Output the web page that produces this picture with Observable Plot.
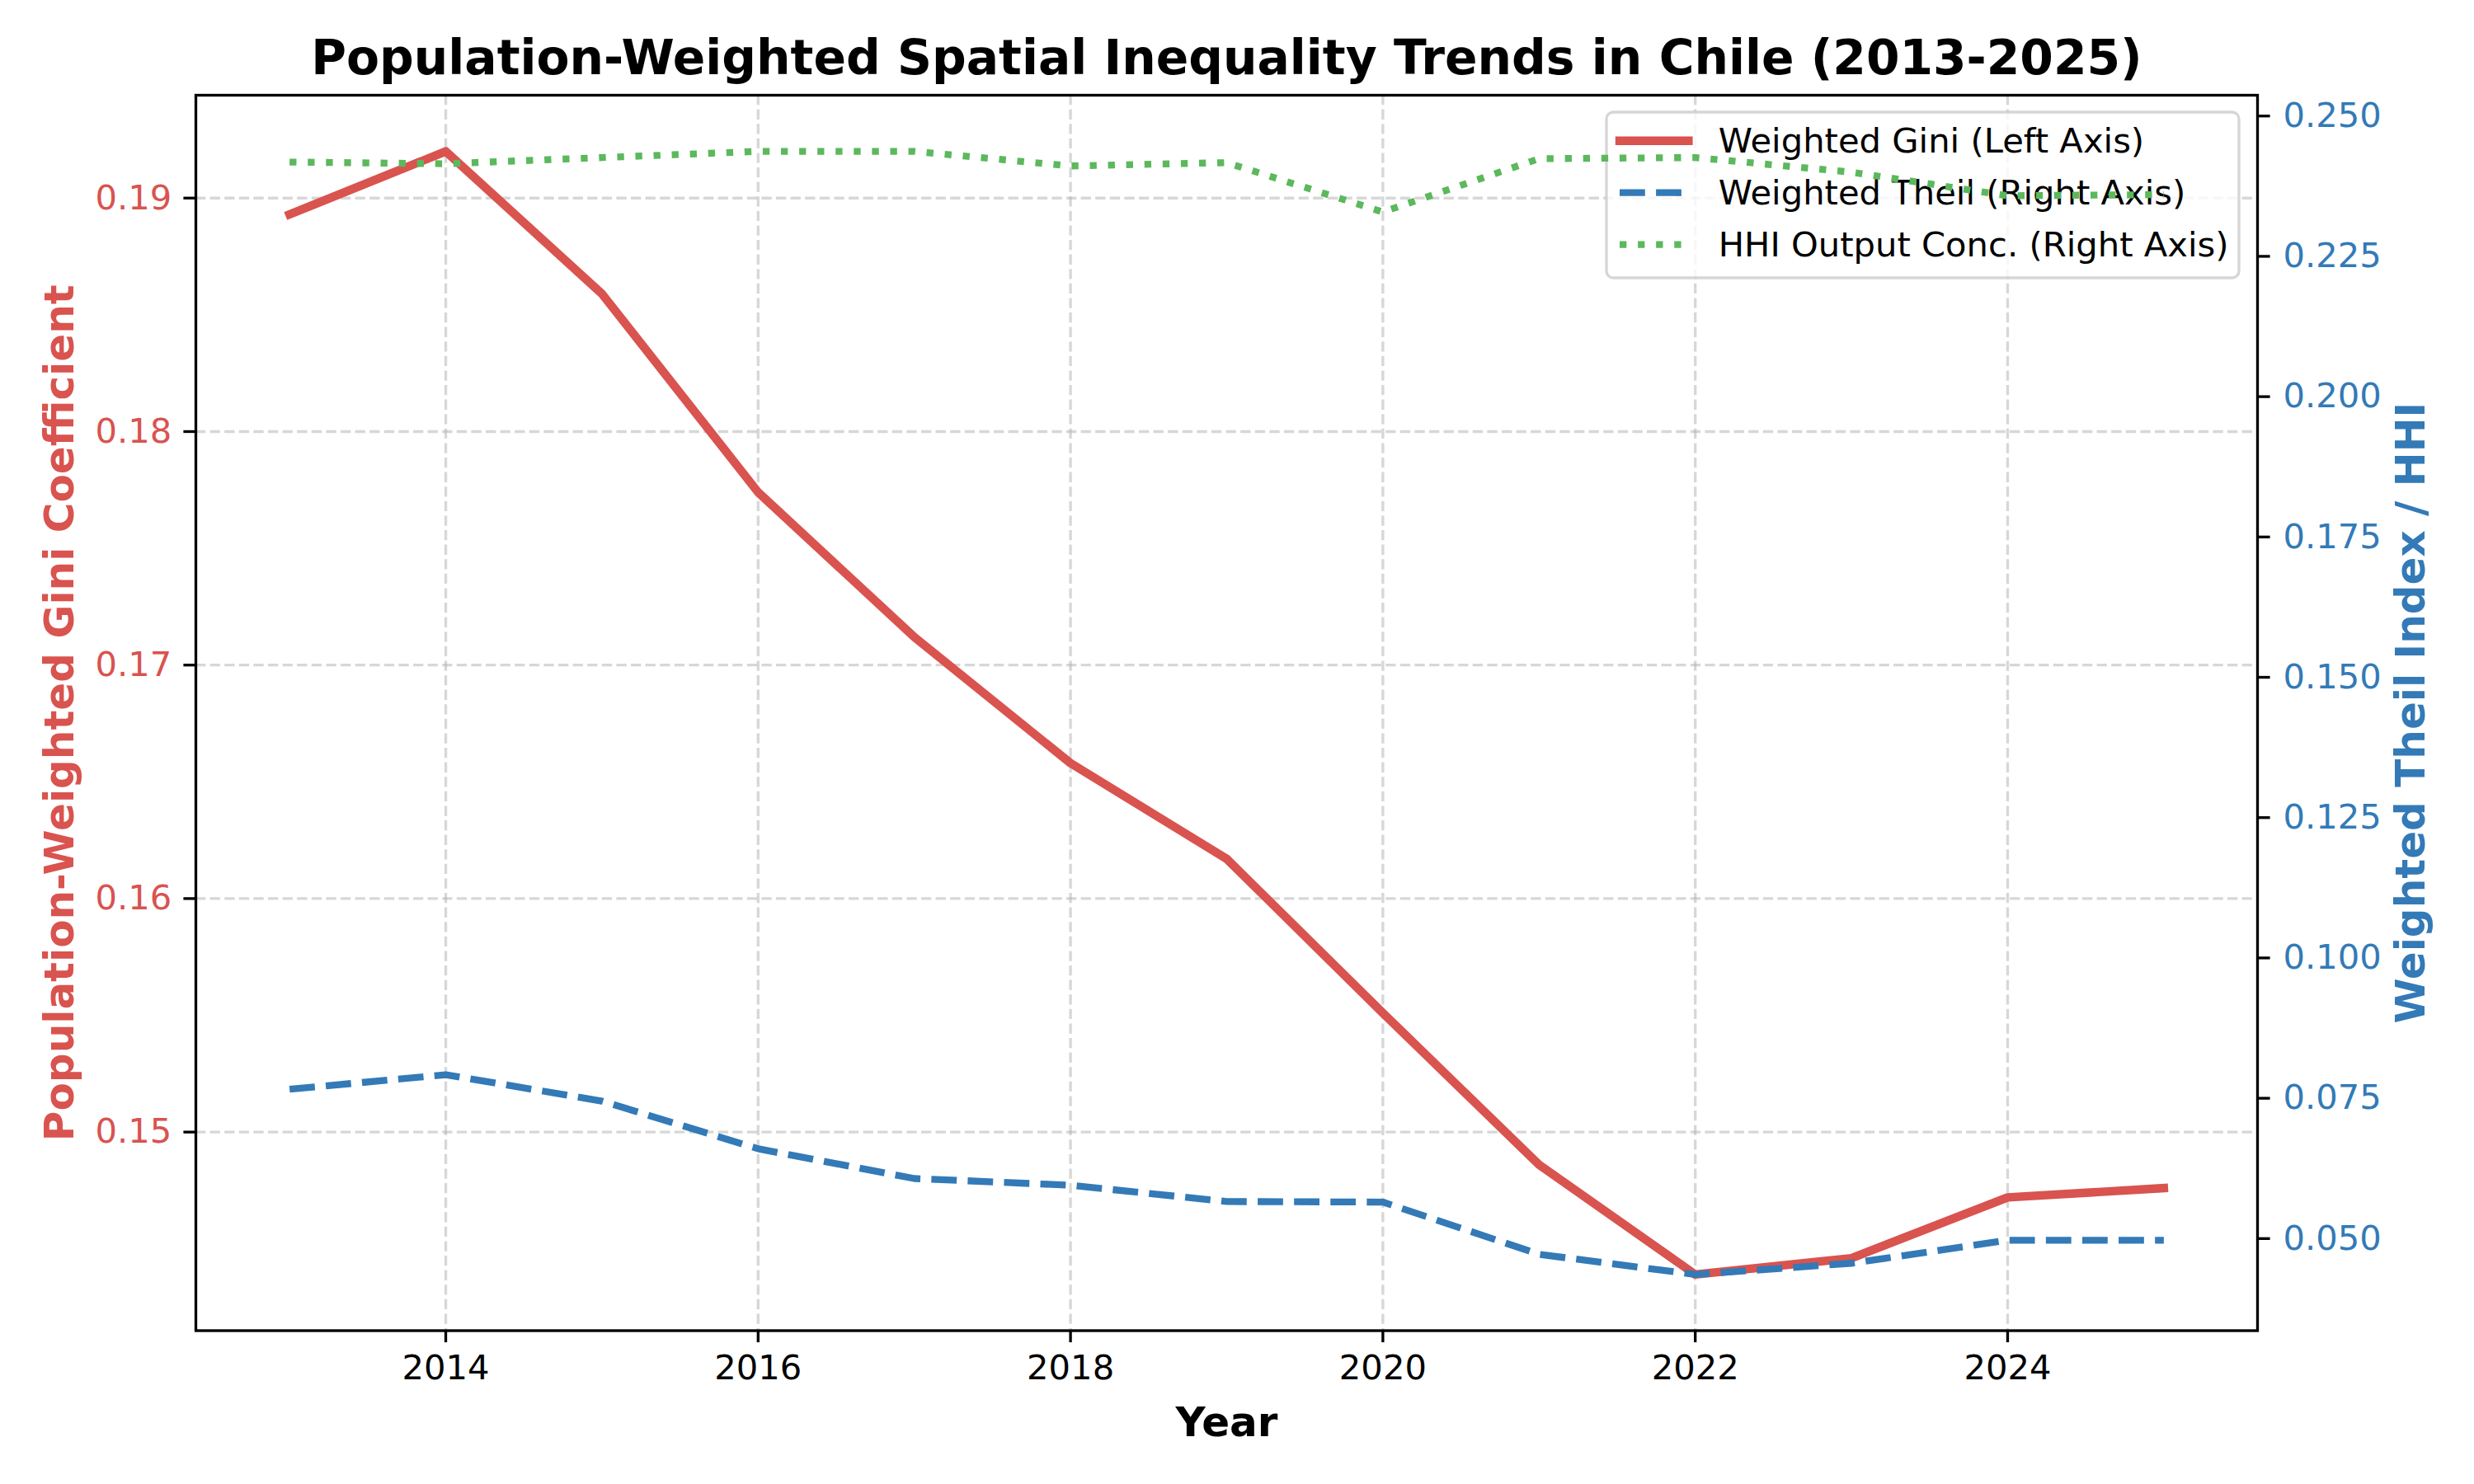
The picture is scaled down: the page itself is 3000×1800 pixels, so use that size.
<!DOCTYPE html>
<html><head><meta charset="utf-8">
<script src="https://cdn.jsdelivr.net/npm/d3@7"></script>
<script src="https://cdn.jsdelivr.net/npm/@observablehq/plot@0.6"></script>
<style>html,body{margin:0;padding:0;background:#fff;} #chart{width:3000px;height:1800px;}</style>
</head><body><div id="chart"></div>
<script>
// ---- data ----
const years = [2013, 2014, 2015, 2016, 2017, 2018, 2019, 2020, 2021, 2022, 2023, 2024, 2025];
const gini  = [0.1893, 0.1920, 0.1859, 0.1774, 0.1712, 0.1658, 0.1617, 0.1551, 0.1486, 0.1439, 0.1446, 0.1472, 0.1476];
const theil = [0.0766, 0.0792, 0.0745, 0.0660, 0.0607, 0.0595, 0.0566, 0.0565, 0.0472, 0.0436, 0.0456, 0.0497, 0.0497];
const hhi   = [0.2418, 0.2415, 0.2426, 0.2437, 0.2437, 0.2411, 0.2417, 0.2329, 0.2424, 0.2426, 0.2400, 0.2358, 0.2360];
const xTicks = [2014, 2016, 2018, 2020, 2022, 2024];
const leftTicks = [0.15, 0.16, 0.17, 0.18, 0.19];
const rightTicks = [0.050, 0.075, 0.100, 0.125, 0.150, 0.175, 0.200, 0.225, 0.250];
const titleText = "Population-Weighted Spatial Inequality Trends in Chile (2013-2025)";
const xLabel = "Year";
const leftLabel = "Population-Weighted Gini Coefficient";
const rightLabel = "Weighted Theil Index / HHI";
const seriesNames = ["Weighted Gini (Left Axis)", "Weighted Theil (Right Axis)", "HHI Output Conc. (Right Axis)"];
const colGini = "#d9534f", colTheil = "#337ab7", colHHI = "#5cb85c";

// ---- scales (matplotlib-like 5% margins) ----
function padded(v) { const lo = d3.min(v), hi = d3.max(v), m = (hi - lo) * 0.05; return [lo - m, hi + m]; }
const xDom = padded(years);
const lDom = padded(gini);
const rDom = padded(theil.concat(hhi));
const r2l = v => lDom[0] + (v - rDom[0]) * (lDom[1] - lDom[0]) / (rDom[1] - rDom[0]);
const l2r = v => rDom[0] + (v - lDom[0]) * (rDom[1] - rDom[0]) / (lDom[1] - lDom[0]);
const rows = years.map((year, i) => ({year, gini: gini[i], theil: r2l(theil[i]), hhi: r2l(hhi[i])}));

const FS = 41.7, LWG = 10.4, LW = 8.33, SW = 3.33;
const gridStyle = {stroke: "#b0b0b0", strokeOpacity: 0.5, strokeWidth: SW, strokeDasharray: "12.3,5.3"};

function legendMark(index, scales, values, dims) {
  const bw = 767, bh = 201;
  const bx = dims.width - dims.marginRight - 22 - bw, by = dims.marginTop + 21;
  const g = d3.create("svg:g");
  g.append("rect").attr("x", bx).attr("y", by).attr("width", bw).attr("height", bh).attr("rx", 8.3)
    .attr("fill", "white").attr("fill-opacity", 0.8)
    .attr("stroke", "#cccccc").attr("stroke-opacity", 0.8).attr("stroke-width", SW);
  const styles = [
    {c: colGini, w: LWG, dash: null, cap: "square"},
    {c: colTheil, w: LW, dash: "30.8,13.3", cap: "butt"},
    {c: colHHI, w: LW, dash: "8.33,13.75", cap: "butt"}
  ];
  seriesNames.forEach((name, i) => {
    const y = by + 34.7 + i * 63;
    const ln = g.append("line").attr("x1", bx + 16).attr("x2", bx + 16 + 83.4).attr("y1", y).attr("y2", y)
      .attr("stroke", styles[i].c).attr("stroke-width", styles[i].w).attr("stroke-linecap", styles[i].cap);
    if (styles[i].dash) ln.attr("stroke-dasharray", styles[i].dash);
    g.append("text").attr("x", bx + 135.7).attr("y", y).attr("dy", "0.35em")
      .attr("text-anchor", "start").attr("font-size", FS).attr("fill", "black").text(name);
  });
  return g.node();
}

const chart = Plot.plot({
  width: 3000, height: 1800,
  marginLeft: 237, marginRight: 263, marginTop: 115, marginBottom: 186.5,
  style: {fontFamily: "DejaVu Sans", fontSize: FS + "px", background: "white", overflow: "visible"},
  x: {domain: xDom, label: null},
  y: {domain: lDom, label: null},
  marks: [
    Plot.gridX(xTicks, gridStyle),
    Plot.gridY(leftTicks, gridStyle),
    Plot.line(rows, {x: "year", y: "gini", stroke: colGini, strokeWidth: LWG, strokeLinecap: "square", strokeLinejoin: "round"}),
    legendMark,
    Plot.line(rows, {x: "year", y: "theil", stroke: colTheil, strokeWidth: LW, strokeDasharray: "30.8,13.3", strokeLinecap: "butt", strokeLinejoin: "round"}),
    Plot.line(rows, {x: "year", y: "hhi", stroke: colHHI, strokeWidth: LW, strokeDasharray: "8.33,13.75", strokeLinecap: "butt", strokeLinejoin: "round"}),
    Plot.frame({stroke: "black", strokeWidth: SW}),
    // x axis
    Plot.axisX(xTicks, {anchor: "bottom", tickSize: 14.6, tickPadding: 14.6, strokeWidth: SW, fontSize: FS, tickFormat: d => String(d), label: null, color: "black"}),
    // left axis: ticks black, labels red
    Plot.axisY(leftTicks, {anchor: "left", tickSize: 14.6, strokeWidth: SW, tickFormat: () => "", label: null, color: "black"}),
    Plot.axisY(leftTicks, {anchor: "left", tickSize: 0, tickPadding: 29.2, fontSize: FS, tickFormat: d3.format(".2f"), label: null, color: colGini}),
    // right axis (mapped)
    Plot.axisY(rightTicks.map(r2l), {anchor: "right", tickSize: 14.6, strokeWidth: SW, tickFormat: () => "", label: null, color: "black"}),
    Plot.axisY(rightTicks.map(r2l), {anchor: "right", tickSize: 0, tickPadding: 31, fontSize: FS, tickFormat: d => d3.format(".3f")(l2r(d)), label: null, color: colTheil}),
    // titles
    Plot.text([titleText], {frameAnchor: "top", text: d => d, dy: -43.7, textAnchor: "middle", lineAnchor: "middle", fontSize: 58.3, fontWeight: "bold", fill: "black"}),
    Plot.text([xLabel], {frameAnchor: "bottom", text: d => d, dy: 111.5, textAnchor: "middle", lineAnchor: "middle", fontSize: 50, fontWeight: "bold", fill: "black"}),
    Plot.text([leftLabel], {frameAnchor: "left", text: d => d, dx: -165, rotate: -90, textAnchor: "middle", lineAnchor: "middle", fontSize: 50, fontWeight: "bold", fill: colGini}),
    Plot.text([rightLabel], {frameAnchor: "right", text: d => d, dx: 186, rotate: -90, textAnchor: "middle", lineAnchor: "middle", fontSize: 50, fontWeight: "bold", fill: colTheil})
  ]
});
document.getElementById("chart").appendChild(chart);
</script>
</body></html>
